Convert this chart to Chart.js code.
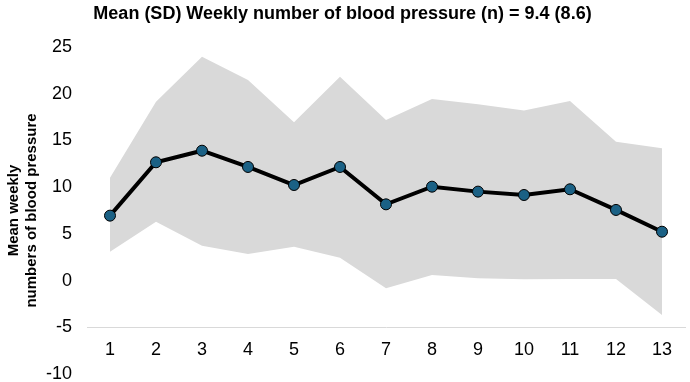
<!DOCTYPE html>
<html>
<head>
<meta charset="utf-8">
<script src="https://cdn.jsdelivr.net/npm/chart.js@4/dist/chart.umd.min.js"></script>
<style>
  html, body { margin: 0; padding: 0; background: #fff; }
  #wrap { width: 690px; height: 382px; }
</style>
</head>
<body>
<div id="wrap"><canvas id="c" width="690" height="382"></canvas></div>
<script>
const weeks = ['1','2','3','4','5','6','7','8','9','10','11','12','13'];
const meanValues = [6.95, 12.66, 13.9, 12.16, 10.23, 12.16, 8.16, 10.05, 9.52, 9.16, 9.77, 7.56, 5.23];
const upperValues = [11.0, 19.15, 23.96, 21.47, 16.94, 21.82, 17.19, 19.44, 18.87, 18.19, 19.22, 14.87, 14.16];
const lowerValues = [3.09, 6.30, 3.74, 2.85, 3.63, 2.45, -0.82, 0.60, 0.25, 0.14, 0.17, 0.17, -3.68];
const yTickValues = [25, 20, 15, 10, 5, 0, -5, -10];
const titleText = 'Mean (SD) Weekly number of blood pressure (n) = 9.4 (8.6)';
const yTitleLines = ['Mean weekly', 'numbers of blood pressure'];

const FONT = "'Liberation Sans', Arial, sans-serif";

new Chart(document.getElementById('c'), {
  type: 'line',
  data: {
    labels: weeks,
    datasets: [
      { label: 'Lower', data: lowerValues, borderWidth: 0, pointRadius: 0, fill: false, order: 3 },
      { label: 'Upper', data: upperValues, borderWidth: 0, pointRadius: 0, backgroundColor: '#d9d9d9', fill: '-1', order: 2 },
      { label: 'Mean', data: meanValues, borderColor: '#000000', borderWidth: 4, pointRadius: 5.5,
        pointBackgroundColor: '#1b6185', pointBorderColor: '#000000', pointBorderWidth: 1, fill: false, order: 1 }
    ]
  },
  options: {
    responsive: false,
    animation: false,
    layout: { autoPadding: false, padding: { left: 0, right: 5, top: 0, bottom: 8 } },
    plugins: {
      legend: { display: false },
      tooltip: { enabled: false },
      title: {
        display: true, text: titleText, color: '#000',
        font: { family: FONT, size: 18, weight: 'bold', lineHeight: 1.2 },
        padding: { top: 3, bottom: 22.4 }
      }
    },
    scales: {
      x: {
        type: 'category', position: { y: -5 }, offset: true,
        grid: { display: false, drawTicks: false },
        border: { display: true, color: '#d9d9d9', width: 1 },
        ticks: { color: '#000', font: { family: FONT, size: 18, lineHeight: 1 }, padding: 14, maxRotation: 0 }
      },
      y: {
        min: -10, max: 25,
        grid: { display: false, drawTicks: false },
        border: { display: false },
        afterBuildTicks(scale) { scale.ticks = yTickValues.map(v => ({ value: v })); },
        afterFit(scale) {
          scale.width = 87;
          scale.paddingTop = 8;
          scale.paddingBottom = 8;
        },
        ticks: { color: '#000', font: { family: FONT, size: 18, lineHeight: 1 }, padding: 15 },
        title: {
          display: true, text: yTitleLines, color: '#000',
          font: { family: FONT, size: 15, weight: 'bold', lineHeight: 1.2 },
          padding: { top: 5, bottom: 0 }
        }
      }
    }
  }
});
</script>
</body>
</html>
